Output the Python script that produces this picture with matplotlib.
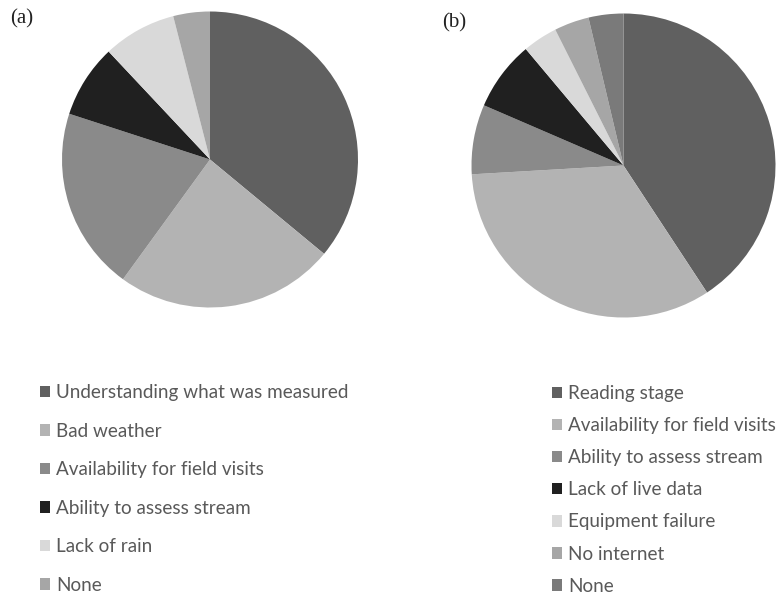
import matplotlib.pyplot as plt

# (a) reasons
labels_a = ["Understanding what was measured", "Bad weather", "Availability for field visits",
            "Ability to assess stream", "Lack of rain", "None"]
counts_a = [9, 6, 5, 2, 2, 1]
colors_a = ["#606060", "#b3b3b3", "#8a8a8a", "#202020", "#d9d9d9", "#a6a6a6"]

# (b) reasons
labels_b = ["Reading stage", "Availability for field visits", "Ability to assess stream",
            "Lack of live data", "Equipment failure", "No internet", "None"]
counts_b = [11, 9, 2, 2, 1, 1, 1]
colors_b = ["#606060", "#b3b3b3", "#8a8a8a", "#202020", "#d9d9d9", "#a6a6a6", "#7a7a7a"]

W, H = 777, 597
fig = plt.figure(figsize=(W / 100, H / 100), dpi=100)
fig.set_facecolor("white")


def pie_axes(cx, cy, r):
    return fig.add_axes([(cx - r) / W, (H - cy - r) / H, 2 * r / W, 2 * r / H])


ax_a = pie_axes(210, 159.5, 148)
wedges_a, _ = ax_a.pie(counts_a, colors=colors_a, startangle=90, counterclock=False, radius=1)
ax_a.set_xlim(-1, 1)
ax_a.set_ylim(-1, 1)
ax_a.axis("off")

ax_b = pie_axes(623.5, 165.5, 152)
wedges_b, _ = ax_b.pie(counts_b, colors=colors_b, startangle=90, counterclock=False, radius=1)
ax_b.set_xlim(-1, 1)
ax_b.set_ylim(-1, 1)
ax_b.axis("off")

fig.text(10 / W, 1 - 19 / H, "(a)", family="Liberation Serif", fontsize=15, va="center", color="#222222")
fig.text(442 / W, 1 - 23 / H, "(b)", family="Liberation Serif", fontsize=15, va="center", color="#222222")

leg_kw = dict(frameon=False, loc="upper left", handlelength=0.57, handleheight=0.57,
              handletextpad=0.3, borderaxespad=0, borderpad=0,
              prop={"family": "Lato", "size": 13.6})
leg_a = fig.legend(wedges_a, labels_a, bbox_to_anchor=(39.5 / W, 1 - 384 / H), labelspacing=1.14, **leg_kw)
leg_b = fig.legend(wedges_b, labels_b, bbox_to_anchor=(551.5 / W, 1 - 385 / H), labelspacing=0.8, **leg_kw)
for leg in (leg_a, leg_b):
    for t in leg.get_texts():
        t.set_color("#595959")

fig.savefig("out.png", dpi=100)
